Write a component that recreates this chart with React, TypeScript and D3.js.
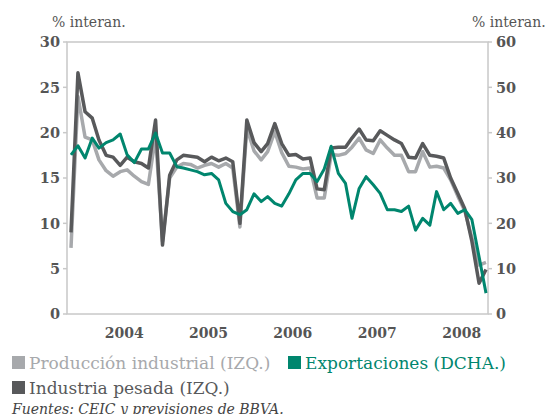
import React, { useEffect, useRef } from "react";
import * as d3 from "d3";

// Monthly, Nov 2003 - Oct 2008
const startMonth = new Date(2003, 10, 1);
const endMonth = new Date(2008, 10, 1);
const months = d3.timeMonth.range(startMonth, endMonth);

const produccion = [
  7.3, 24.0, 19.5, 19.2, 17.0, 15.8, 15.2, 15.7, 15.9, 15.2, 14.6, 14.3,
  19.6, 8.0, 15.0, 16.2, 16.6, 16.5, 16.1, 16.4, 16.6, 16.2, 16.6, 16.1,
  9.6, 20.5, 18.0, 17.0, 17.9, 20.1, 17.8, 16.3, 16.2, 16.0, 16.1, 12.8,
  12.8, 17.6, 17.5, 17.7, 18.4, 19.4, 18.1, 17.7, 19.2, 18.3, 17.5, 17.5,
  15.7, 15.7, 17.9, 16.2, 16.3, 16.1, 14.8, 13.0, 11.4, 8.4, 5.4, 5.7,
];

const pesada = [
  9.0, 26.6, 22.3, 21.6, 19.2, 17.5, 17.3, 16.4, 17.3, 16.8, 16.6, 16.1,
  21.4, 7.6, 15.3, 17.0, 17.5, 17.4, 17.3, 16.8, 17.3, 16.9, 17.2, 16.8,
  10.0, 21.4, 18.9, 17.9, 18.8, 21.0, 18.8, 17.5, 17.6, 17.1, 17.2, 13.8,
  13.7, 18.3, 18.4, 18.4, 19.4, 20.4, 19.2, 19.1, 20.2, 19.7, 19.2, 18.8,
  17.3, 17.2, 18.8, 17.5, 17.4, 17.2, 15.0, 13.3, 11.6, 8.0, 3.4, 4.9,
];

const exportaciones = [
  35.1, 37.1, 34.4, 38.8, 36.6, 37.8, 38.4, 39.7, 35.1, 33.4, 36.4, 36.4,
  39.9, 35.5, 35.5, 32.5, 32.2, 31.8, 31.4, 30.7, 31.0, 29.6, 24.4, 22.6,
  21.9, 23.0, 26.5, 24.8, 25.9, 24.4, 23.8, 26.5, 29.6, 31.0, 31.0, 29.2,
  32.0, 37.0, 31.0, 28.8, 21.1, 27.7, 30.3, 28.5, 26.6, 23.0, 23.0, 22.6,
  23.8, 18.5, 21.1, 19.6, 27.0, 23.0, 24.4, 22.2, 23.0, 20.8, 12.6, 4.6,
];

const leftTicks = [0, 5, 10, 15, 20, 25, 30];
const rightTicks = [0, 10, 20, 30, 40, 50, 60];
const years = [2004, 2005, 2006, 2007, 2008];

const LIGHT = "#a7a9ac";
const DARK = "#58595b";
const GREEN = "#00866e";
const TEXT = "#555555";
const FONT = "'DejaVu Serif', serif";

const Chart = () => {
  const ref = useRef(null);

  useEffect(() => {
    const svg = d3.select(ref.current);
    svg.selectAll("*").remove();

    const frame = { left: 67, right: 488, top: 42, bottom: 314 };

    const x = d3
      .scaleTime()
      .domain([months[0], months[months.length - 1]])
      .range([71, 486]);
    const yL = d3.scaleLinear().domain([0, 30]).range([frame.bottom, frame.top]);
    const yR = d3.scaleLinear().domain([0, 60]).range([frame.bottom, frame.top]);

    // frame
    svg
      .append("rect")
      .attr("x", frame.left)
      .attr("y", frame.top)
      .attr("width", frame.right - frame.left)
      .attr("height", frame.bottom - frame.top)
      .attr("fill", "none")
      .attr("stroke", "#c8c8c8")
      .attr("stroke-width", 1.5);

    // left axis ticks + labels
    const gl = svg.append("g");
    leftTicks.forEach((t) => {
      gl.append("line")
        .attr("x1", frame.left - 4)
        .attr("x2", frame.left)
        .attr("y1", yL(t))
        .attr("y2", yL(t))
        .attr("stroke", "#c8c8c8")
        .attr("stroke-width", 1.5);
      gl.append("text")
        .attr("x", 60)
        .attr("y", yL(t))
        .attr("dy", "0.36em")
        .attr("text-anchor", "end")
        .attr("font-family", FONT)
        .attr("font-weight", "bold")
        .attr("font-size", 14.5)
        .attr("fill", TEXT)
        .text(t);
    });

    const gr = svg.append("g");
    rightTicks.forEach((t) => {
      gr.append("line")
        .attr("x1", frame.right)
        .attr("x2", frame.right + 4)
        .attr("y1", yR(t))
        .attr("y2", yR(t))
        .attr("stroke", "#c8c8c8")
        .attr("stroke-width", 1.5);
      gr.append("text")
        .attr("x", 496)
        .attr("y", yR(t))
        .attr("dy", "0.36em")
        .attr("text-anchor", "start")
        .attr("font-family", FONT)
        .attr("font-weight", "bold")
        .attr("font-size", 14.5)
        .attr("fill", TEXT)
        .text(t);
    });

    // year labels
    years.forEach((yr) => {
      svg
        .append("text")
        .attr("x", x(new Date(yr, 5, 18)))
        .attr("y", 338)
        .attr("text-anchor", "middle")
        .attr("font-family", FONT)
        .attr("font-weight", "bold")
        .attr("font-size", 14)
        .attr("fill", TEXT)
        .text(yr);
    });

    // unit labels
    svg
      .append("text")
      .attr("x", 52)
      .attr("y", 27)
      .attr("font-family", FONT)
      .attr("font-size", 14)
      .attr("fill", TEXT)
      .text("% interan.");
    svg
      .append("text")
      .attr("x", 472)
      .attr("y", 27)
      .attr("font-family", FONT)
      .attr("font-size", 14)
      .attr("fill", TEXT)
      .text("% interan.");

    // lines
    const lineL = d3
      .line()
      .x((d, i) => x(months[i]))
      .y((d) => yL(d));
    const lineR = d3
      .line()
      .x((d, i) => x(months[i]))
      .y((d) => yR(d));

    svg
      .append("path")
      .datum(produccion)
      .attr("fill", "none")
      .attr("stroke", LIGHT)
      .attr("stroke-width", 3.5)
      .attr("stroke-linejoin", "round")
      .attr("d", lineL);

    svg
      .append("path")
      .datum(pesada)
      .attr("fill", "none")
      .attr("stroke", DARK)
      .attr("stroke-width", 3.5)
      .attr("stroke-linejoin", "round")
      .attr("d", lineL);

    svg
      .append("path")
      .datum(exportaciones)
      .attr("fill", "none")
      .attr("stroke", GREEN)
      .attr("stroke-width", 3)
      .attr("stroke-linejoin", "round")
      .attr("d", lineR);

    // legend
    const legend = [
      { label: "Producción industrial (IZQ.)", color: LIGHT, x: 12, y: 363 },
      { label: "Exportaciones (DCHA.)", color: GREEN, x: 288, y: 363 },
      { label: "Industria pesada (IZQ.)", color: DARK, x: 12, y: 388 },
    ];
    legend.forEach((l) => {
      svg
        .append("rect")
        .attr("x", l.x)
        .attr("y", l.y - 7)
        .attr("width", 13)
        .attr("height", 13)
        .attr("fill", l.color);
      svg
        .append("text")
        .attr("x", l.x + 17)
        .attr("y", l.y + 6)
        .attr("font-family", FONT)
        .attr("font-size", 17)
        .attr("fill", l.color)
        .text(l.label);
    });

    svg
      .append("text")
      .attr("x", 12)
      .attr("y", 414)
      .attr("font-family", FONT)
      .attr("font-style", "italic")
      .attr("font-size", 14)
      .attr("fill", "#444")
      .text("Fuentes: CEIC y previsiones de BBVA.");
  }, []);

  return (
    <svg
      ref={ref}
      width={555}
      height={414}
      style={{ position: "absolute", left: 0, top: 0, background: "#fff" }}
    ></svg>
  );
};

export default function App() {
  return <Chart />;
}
